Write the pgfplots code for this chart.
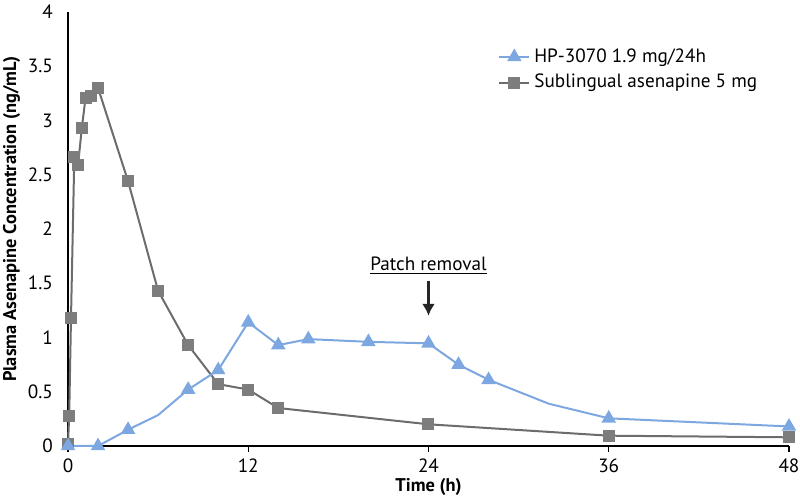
\documentclass[border=0pt]{standalone}
\usepackage{pgfplots}
\pgfplotsset{compat=1.18}
\usepackage{fontspec}
\setmainfont{PT Sans}
\usetikzlibrary{arrows.meta}
\definecolor{hpblue}{RGB}{125,167,224}
\definecolor{sgray}{RGB}{108,108,108}
\definecolor{sgrayfill}{RGB}{125,125,125}
\begin{document}
\begin{tikzpicture}
\begin{axis}[
  scale only axis, width=360.5pt, height=217pt,
  xmin=0, xmax=48, ymin=0, ymax=4,
  clip=false,
  axis lines=left,
  axis line style={-, black, line width=0.6pt},
  xtick={0,12,24,36,48},
  ytick={0,0.5,1,1.5,2,2.5,3,3.5,4},
  tick align=outside, major tick length=3pt,
  ytick style={draw=none},
  xtick style={black, line width=0.6pt},
  /pgf/number format/assume math mode=true,
  tick label style={font=\fontsize{9.6}{11}\selectfont},
  yticklabel style={xshift=-1pt},
  xlabel={\textbf{Time (h)}},
  ylabel={\textbf{Plasma Asenapine Concentration (ng/mL)}},
  label style={font=\fontsize{9.2}{11}\selectfont},
  xlabel style={yshift=4pt},
  ylabel style={yshift=-3pt, xshift=5pt},
  legend image code/.code={
    \draw[#1] (0pt,0pt) -- (15pt,0pt);
    \draw[#1] plot coordinates {(7.5pt,0pt)};},
  legend style={draw=none, fill=none, at={(0.588,0.935)}, anchor=north west,
    font=\fontsize{9.6}{11}\selectfont, row sep=0.5pt,
    nodes={inner xsep=2pt}},
  legend cell align=left,
]
\addlegendimage{color=hpblue, line width=1pt, mark=triangle*, mark size=3.2pt,
  mark options={fill=hpblue, draw=hpblue}}
\addlegendentry{HP-3070 1.9 mg/24h}
\addlegendimage{color=sgray, line width=1pt, mark=square*, mark size=2.5pt,
  mark options={fill=sgrayfill, draw=sgrayfill}}
\addlegendentry{Sublingual asenapine 5 mg}
\addplot[color=sgray, line width=1pt, mark=square*, mark size=2.5pt,
  mark options={fill=sgrayfill, draw=sgrayfill}, forget plot]
coordinates {
(0,0.02) (0.08,0.28) (0.2,1.18) (0.42,2.66) (0.67,2.59) (0.92,2.93) (1.17,3.21)
(1.5,3.23) (2,3.30) (4,2.44) (6,1.43) (8,0.93) (10,0.57) (12,0.52) (14,0.35)
(24,0.20) (36,0.095) (48,0.08)
};
\addplot[color=hpblue, line width=1pt, mark=triangle*, mark size=3.2pt,
  mark options={fill=hpblue, draw=hpblue},
  mark indices={1,2,3,5,6,7,8,9,10,11,12,13,15,16}, forget plot]
coordinates {
(0,0) (2,0) (4,0.15) (6,0.285) (8,0.52) (10,0.70) (12,1.14) (14,0.93)
(16,0.985) (20,0.96) (24,0.946) (26,0.75) (28,0.61) (32,0.39) (36,0.255) (48,0.18)
};
\node[font=\fontsize{9.6}{11}\selectfont] at (axis cs:24,1.665) {\underline{Patch removal}};
\draw[-{Latex[length=6pt,width=6.5pt]}, line width=1.4pt, black!85]
  (axis cs:24,1.52) -- (axis cs:24,1.20);
\coordinate (O) at (axis cs:0,0);
\end{axis}
\pgfresetboundingbox
\path (O) ++(-34pt,-25.5pt) rectangle ++(400pt,248.5pt);
\end{tikzpicture}
\end{document}
